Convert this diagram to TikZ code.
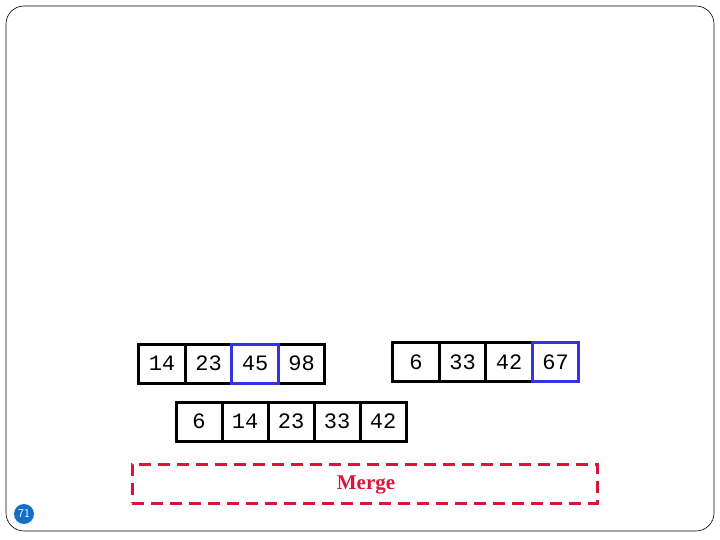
\documentclass[tikz,border=0pt]{standalone}
\usepackage{fontspec}
\setmonofont{Liberation Mono}
\setmainfont{Liberation Serif}
\usepackage{tikz}
\usetikzlibrary{positioning}
\definecolor{mergered}{RGB}{220,20,60}
\definecolor{keyblue}{RGB}{50,50,230}
\definecolor{pageblue}{RGB}{20,110,200}
\begin{document}
\begin{tikzpicture}[x=1pt,y=-1pt]
	\tikzset{
		cell/.style = {draw, line width=3pt, rectangle, fill=white, minimum width=46.5pt, minimum height=39pt,
			inner sep=0pt, outer sep=0pt, font=\ttfamily\fontsize{22}{22}\selectfont},
		keycell/.style = {cell, draw=keyblue},
		mergebox/.style = {draw=mergered, line width=3pt, dash pattern=on 12pt off 7pt, minimum width=465pt,
			minimum height=39pt, inner sep=0pt},
	}
	\useasboundingbox (0,0) rectangle (720,540);
	\draw[line width=0.6pt, rounded corners=18pt] (6,6) rectangle (714,531);

	%left run
	\node (a1) [cell] at (162,363.5) {14};
	\node (a2) [cell, right=0pt of a1] {23};
	\node (a4) [cell, right=46.5pt of a2] {98};
	\node (a3) [keycell, right=0pt of a2] {45};
	%right run
	\node (b1) [cell] at (416,362) {6};
	\node (b2) [cell, right=0pt of b1] {33};
	\node (b3) [cell, right=0pt of b2] {42};
	\node (b4) [keycell, right=0pt of b3] {67};
	%merged output
	\node (c1) [cell, minimum width=46pt] at (199,421.5) {6};
	\node (c2) [cell, minimum width=46pt, right=0pt of c1] {14};
	\node (c3) [cell, minimum width=46pt, right=0pt of c2] {23};
	\node (c4) [cell, minimum width=46pt, right=0pt of c3] {33};
	\node (c5) [cell, minimum width=46pt, right=0pt of c4] {42};

	\node (merge) [mergebox] at (364.5,483.5) {};
	\node (mergelabel) [text=mergered, font=\bfseries\fontsize{21}{21}\selectfont] at (366,485) {Merge};

	\node (page) [circle, fill=pageblue, text=white, inner sep=0pt, minimum size=20pt,
		font=\sffamily\fontsize{12}{12}\selectfont] at (24,514) {71};
\end{tikzpicture}
\end{document}
